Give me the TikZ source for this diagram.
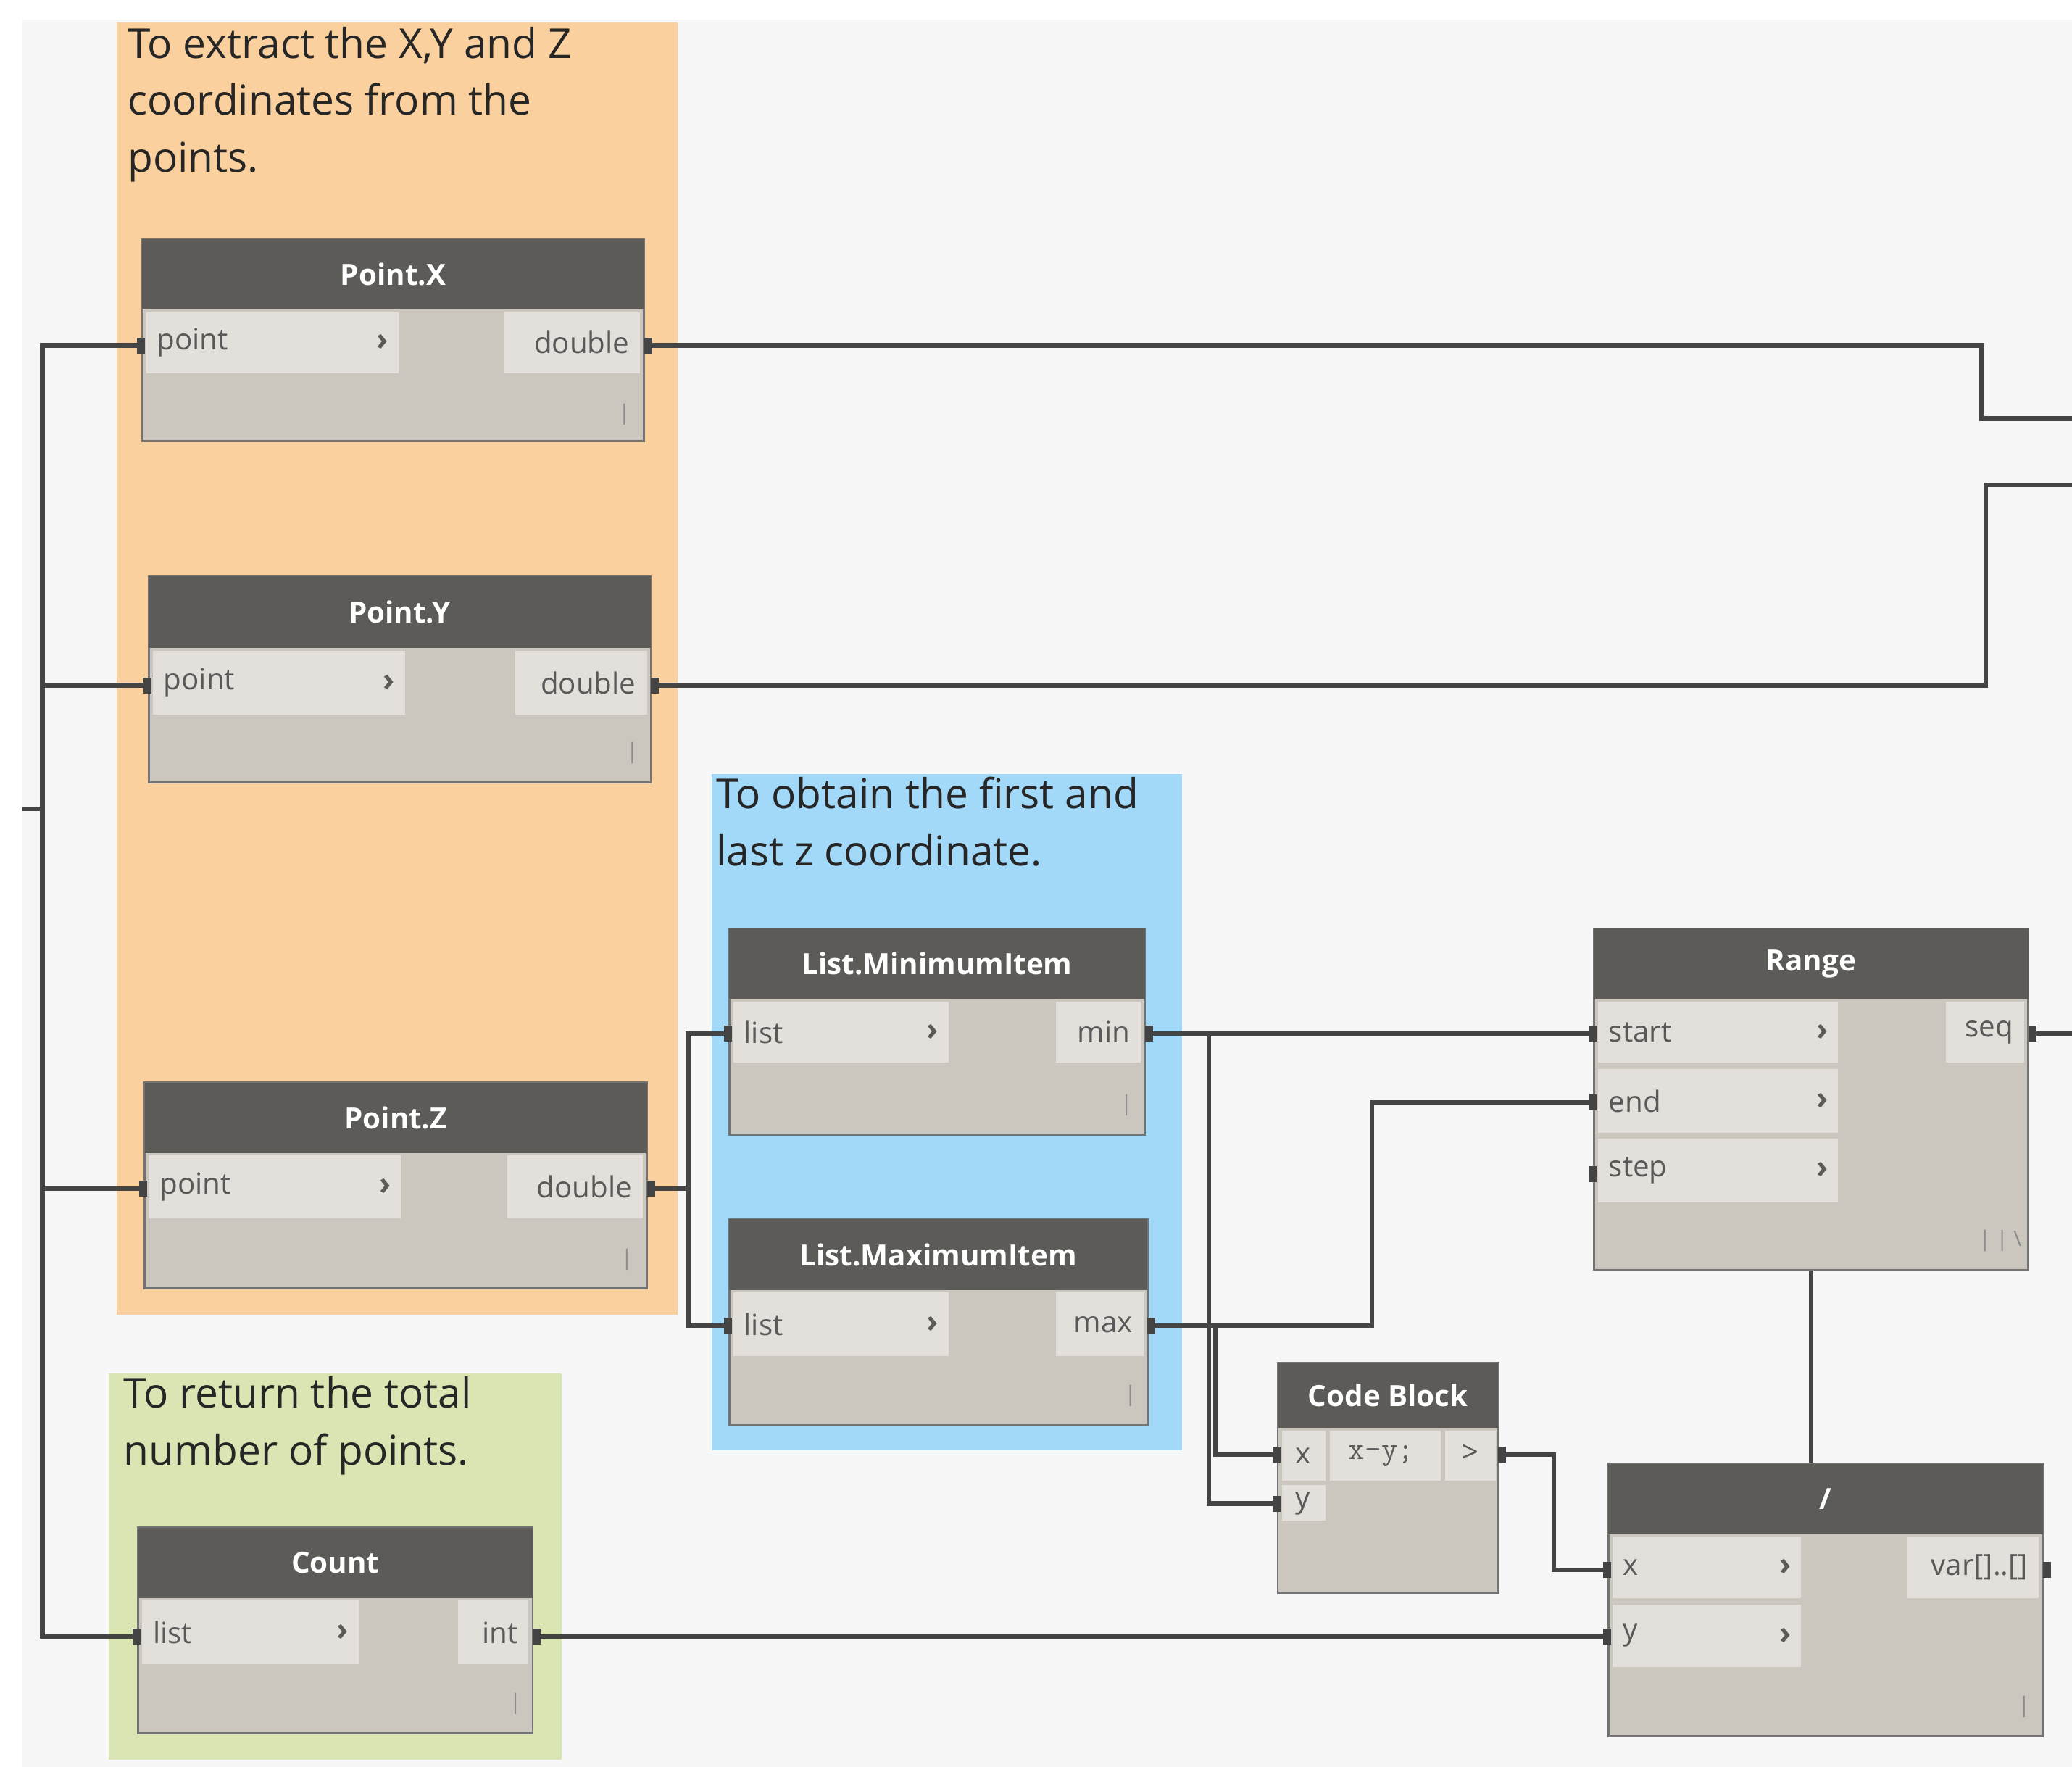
\documentclass[tikz,border=0pt]{standalone}
\usepackage{fontspec}
\setmainfont{Open Sans}
\usetikzlibrary{fit,calc}
\definecolor{hdr}{HTML}{5D5B58}
\definecolor{bdy}{HTML}{CBC6BE}
\definecolor{prt}{HTML}{E3E0DB}
\definecolor{wirec}{HTML}{444444}
\definecolor{org}{HTML}{FAD19E}
\definecolor{blu}{HTML}{A2D8F8}
\definecolor{grn}{HTML}{D9E6B3}
\tikzset{
  wire/.style={draw=wirec,line width=3.5pt},
  note/.style={anchor=north west,align=left,inner sep=0,font=\fontsize{31}{43}\selectfont,text=black!85},
  ttl/.style={text=white,font=\fontsize{22}{26}\selectfont\bfseries,inner sep=0},
  plab/.style={text=black!65,font=\fontsize{22}{26}\selectfont,inner sep=0},
  chev/.style={text=hdr,font=\fontsize{24}{26}\selectfont\bfseries,inner sep=0},
  foot/.style={text=black!45,font=\fontsize{16}{18}\selectfont,inner sep=0},
}
\newcommand\dnode[7]{%
  \node[fit={(#2,#3)(#4,#5)},inner sep=0,draw=black!55,line width=1.5pt,fill=bdy] (#1) {};
  \fill[hdr] (#2,#3) rectangle (#4,#6);
  \node[ttl] at ({(#2+#4)/2},{(#3+#6)/2}) {#7};}
\newcommand\inp[7]{%
  \fill[prt] (#2,#3) rectangle (#4,#5);
  \node[plab,anchor=west] at ({#2+8},{(#3+#5)/2}) {#6};
  \node[chev] at ({#4-12},{(#3+#5)/2}) {#7};}
\newcommand\outp[5]{%
  \fill[prt] (#1,#2) rectangle (#3,#4);
  \node[plab,anchor=east] at ({#3-8},{(#2+#4)/2}) {#5};}
\begin{document}
\begin{tikzpicture}[x=1pt,y=-1pt]
\useasboundingbox (0,0) rectangle (1560,1330);
\fill[white] (0,0) rectangle (1560,1330);
\fill[black!3] (17,15) rectangle (1560,1330);
\fill[org] (88,17) rectangle (510,990);
\node[note] (n1) at (96,20) {To extract the X,Y and Z\\coordinates from the\\points.};
\fill[blu] (536,583) rectangle (890,1092);
\node[note] (n2) at (539,585) {To obtain the first and\\last z coordinate.};
\fill[grn] (82,1034) rectangle (423,1325);
\node[note] (n3) at (93,1036) {To return the total\\number of points.};
\dnode{px}{107}{180}{485}{332}{233}{Point.X}
\inp{px}{110}{235}{300}{281}{point}{\char"203A}
\outp{380}{235}{482}{281}{double}
\node[foot] at (470,312) {|};
\dnode{py}{112}{434}{490}{589}{488}{Point.Y}
\inp{py}{115}{490}{305}{538}{point}{\char"203A}
\outp{388}{490}{487}{538}{double}
\node[foot] at (476,567) {|};
\dnode{pz}{109}{815}{487}{970}{868}{Point.Z}
\inp{pz}{112}{870}{302}{917}{point}{\char"203A}
\outp{382}{870}{484}{917}{double}
\node[foot] at (472,948) {|};
\dnode{mn}{549}{699}{862}{854}{752}{List.MinimumItem}
\inp{mn}{552}{754}{714}{800}{list}{\char"203A}
\outp{795}{754}{859}{800}{min}
\node[foot] at (848,832) {|};
\dnode{mx}{549}{918}{864}{1073}{971}{List.MaximumItem}
\inp{mx}{552}{973}{714}{1021}{list}{\char"203A}
\outp{795}{973}{861}{1021}{max}
\node[foot] at (851,1051) {|};
\dnode{ct}{104}{1150}{401}{1305}{1203}{Count}
\inp{ct}{107}{1205}{270}{1253}{list}{\char"203A}
\outp{345}{1205}{398}{1253}{int}
\node[foot] at (388,1283) {|};
\dnode{rg}{1200}{699}{1527}{956}{752}{Range}
\inp{rg}{1203}{754}{1384}{800}{start}{\char"203A}
\inp{rg}{1203}{805}{1384}{853}{end}{\char"203A}
\inp{rg}{1203}{857}{1384}{905}{step}{\char"203A}
\outp{1465}{754}{1524}{800}{seq}
\node[foot] at (1506,934) {| | \textbackslash};
\dnode{cb}{962}{1026}{1128}{1199}{1075}{Code Block}
\fill[prt] (965,1077) rectangle (998,1115);
\node[plab] at (981,1096) {x};
\fill[prt] (1001,1077) rectangle (1085,1115);
\node[plab,font=\fontsize{24}{26}\selectfont\ttfamily] at (1040,1096) {x-y;};
\fill[prt] (1088,1077) rectangle (1126,1115);
\node[plab] at (1107,1094) {>};
\fill[prt] (965,1118) rectangle (998,1145);
\node[plab] at (981,1132) {y};
\dnode{dv}{1211}{1102}{1538}{1307}{1155}{/}
\inp{dv}{1214}{1157}{1356}{1203}{x}{\char"203A}
\inp{dv}{1214}{1208}{1356}{1255}{y}{\char"203A}
\outp{1436}{1157}{1535}{1203}{var[]..[]}
\node[foot] at (1524,1285) {|};
\coordinate (pxi) at (107,260); \coordinate (pxo) at (487,260);
\coordinate (pyi) at (112,516); \coordinate (pyo) at (492,516);
\coordinate (pzi) at (109,895); \coordinate (pzo) at (489,895);
\coordinate (cti) at (104,1232); \coordinate (cto) at (403,1232);
\coordinate (mni) at (549,778); \coordinate (mno) at (864,778);
\coordinate (mxi) at (549,998); \coordinate (mxo) at (866,998);
\coordinate (rgs) at (1200,778); \coordinate (rge) at (1200,830); \coordinate (rgp) at (1200,884);
\coordinate (rgo) at (1529,778);
\coordinate (cbx) at (962,1095); \coordinate (cby) at (962,1132); \coordinate (cbo) at (1130,1095);
\coordinate (dvx) at (1211,1182); \coordinate (dvy) at (1211,1232); \coordinate (dvo) at (1540,1182);
\coordinate (stub) at (17,609);
\coordinate (ex1) at (1560,315); \coordinate (ex2) at (1560,365); \coordinate (ex3) at (1560,778);
\draw[wire] (stub) -- (32,609);
\draw[wire] (pxi) -| (32,1232) -- (cti);
\draw[wire] (32,516) -- (pyi);
\draw[wire] (32,895) -- (pzi);
\draw[wire] (pxo) -- (1492,260) |- (ex1);
\draw[wire] (pyo) -- (1495,516) |- (ex2);
\draw[wire] (pzo) -- (518,895) |- (mni);
\draw[wire] (518,895) |- (mxi);
\draw[wire] (mno) -- (rgs);
\draw[wire] (mxo) -- (1033,998) |- (rge);
\draw[wire] (910,778) |- (cby);
\draw[wire] (915,998) |- (cbx);
\draw[wire] (cbo) -- (1170,1095) |- (dvx);
\draw[wire] (cto) -- (dvy);
\draw[wire] (rg.south) -- (rg.south |- dv.north);
\draw[wire] (rgo) -- (ex3);
\foreach \p in {pxi,pyi,pzi,cti,mni,mxi,rgs,rge,rgp,cbx,cby,dvx,dvy}
  \fill[wirec] ($(\p)+(-4,-6)$) rectangle ($(\p)+(2,6)$);
\foreach \p in {pxo,pyo,pzo,cto,mno,mxo,rgo,cbo,dvo}
  \fill[wirec] ($(\p)+(-2,-6)$) rectangle ($(\p)+(4,6)$);
\end{tikzpicture}
\end{document}
